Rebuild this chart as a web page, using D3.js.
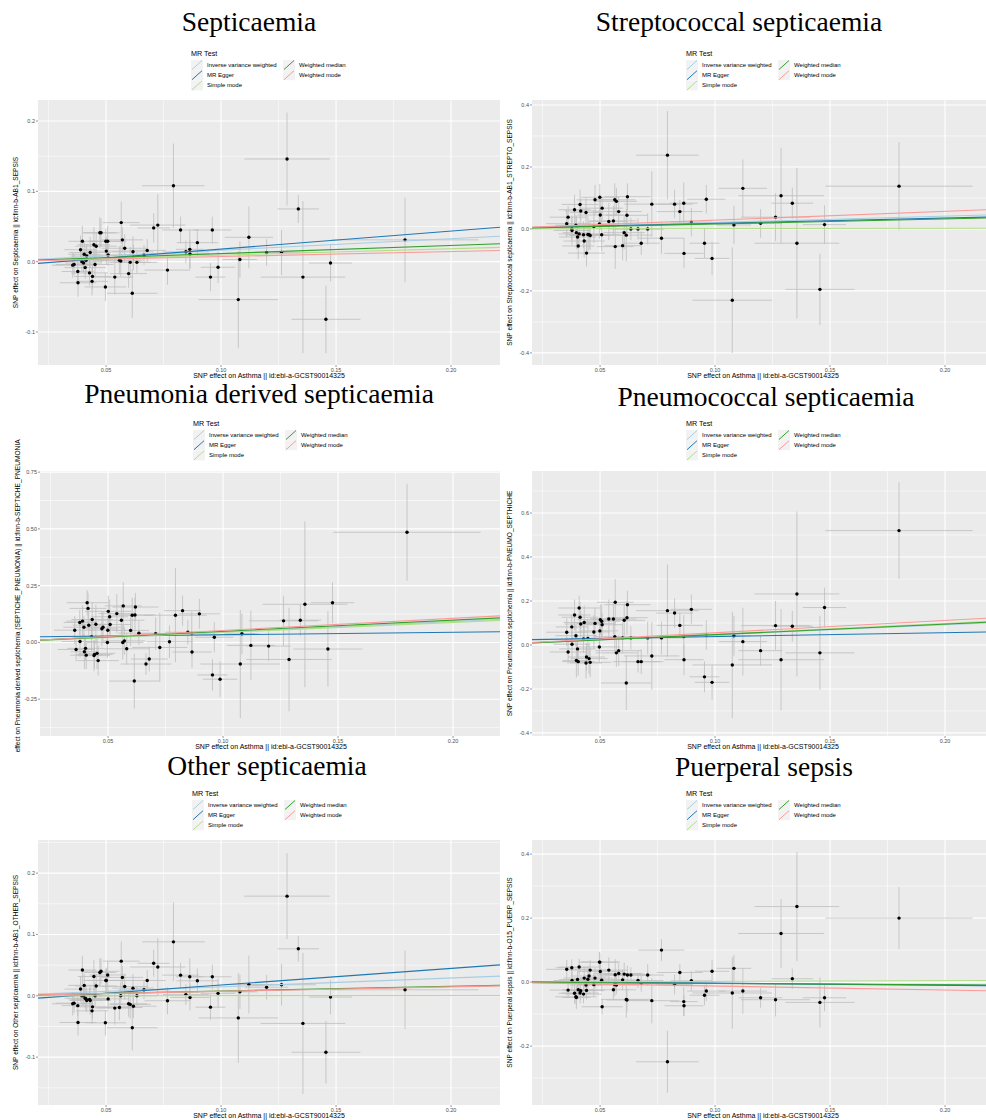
<!DOCTYPE html>
<html>
<head>
<meta charset="utf-8">
<script src="https://cdn.jsdelivr.net/npm/d3@7"></script>
<style>
  body { margin: 0; background: #fff; }
  svg { display: block; }
</style>
</head>
<body>
<div id="chart"></div>
<script>
(function() {
  'use strict';

  var methods = ["Inverse variance weighted", "MR Egger", "Simple mode", "Weighted median", "Weighted mode"];
  var methodColors = ["#A6CEE3", "#1F78B4", "#B2DF8A", "#33A02C", "#FB9A99"];

  var xLabel = "SNP effect on Asthma || id:ebi-a-GCST90014325";
  var xTicks = [0.05, 0.10, 0.15, 0.20];
  var xDomain = [0.0204, 0.2213];

  // SNP effect on the exposure (same instruments in every panel)
  var snpBeta = [0.0355, 0.0361, 0.0377, 0.0378, 0.0389, 0.0395, 0.0397, 0.0402, 0.0405, 0.0409,
    0.0413, 0.0416, 0.0428, 0.0431, 0.0439, 0.0441, 0.0447, 0.0452, 0.0457, 0.0473,
    0.0478, 0.0497, 0.0499, 0.0501, 0.0507, 0.0509, 0.0538, 0.0558, 0.0564, 0.0566,
    0.0571, 0.0581, 0.0598, 0.0605, 0.0614, 0.0617, 0.0619, 0.0634, 0.0665, 0.0679,
    0.0707, 0.0725, 0.0767, 0.0793, 0.0824, 0.0847, 0.0864, 0.0865, 0.0897, 0.0954,
    0.0962, 0.0987, 0.1075, 0.1082, 0.1121, 0.1198, 0.1263, 0.1287, 0.1336, 0.1356,
    0.1456, 0.1476, 0.1800];
  var snpSe = [0.009, 0.008, 0.007, 0.008, 0.007, 0.009, 0.006, 0.008, 0.007, 0.009,
    0.008, 0.007, 0.008, 0.009, 0.007, 0.008, 0.007, 0.008, 0.009, 0.007,
    0.008, 0.009, 0.008, 0.010, 0.008, 0.009, 0.008, 0.010, 0.009, 0.008,
    0.009, 0.010, 0.008, 0.009, 0.011, 0.009, 0.010, 0.009, 0.011, 0.008,
    0.007, 0.012, 0.010, 0.0136, 0.008, 0.010, 0.006, 0.0085, 0.009, 0.0065,
    0.0083, 0.0075, 0.0173, 0.0075, 0.0105, 0.0095, 0.015, 0.0186, 0.009, 0.0184,
    0.015, 0.0094, 0.032];

  // outcome: Septicaemia
  var septicaemiaBeta = [-0.005, -0.004, -0.014, -0.030, 0.017, 0.000, 0.029, -0.002, 0.0105, -0.0085,
    0.002, 0.008, -0.016, 0.013, -0.028, -0.021, 0.024, -0.004, 0.022, 0.041,
    0.041, -0.036, 0.029, 0.015, 0.029, 0.0095, -0.022, 0.002, 0.001, 0.0555,
    0.031, 0.019, -0.017, -0.001, -0.045, 0.014, 0.006, -0.001, 0.0095, 0.016,
    0.048, 0.052, -0.012, 0.108, 0.045, 0.014, 0.0175, 0.011, 0.027, -0.022,
    0.045, -0.008, -0.054, 0.003, 0.0346, 0.013, 0.013, 0.146, 0.075, -0.022,
    -0.082, -0.002, 0.031];
  var septicaemiaSe = [0.018, 0.015, 0.016, 0.020, 0.020, 0.014, 0.022, 0.015, 0.018, 0.016,
    0.020, 0.017, 0.018, 0.022, 0.020, 0.018, 0.025, 0.020, 0.019, 0.022,
    0.020, 0.020, 0.018, 0.020, 0.022, 0.015, 0.025, 0.020, 0.022, 0.030,
    0.018, 0.020, 0.020, 0.022, 0.035, 0.022, 0.018, 0.015, 0.014, 0.016,
    0.021, 0.044, 0.021, 0.060, 0.019, 0.016, 0.028, 0.020, 0.019, 0.020,
    0.019, 0.0225, 0.069, 0.026, 0.044, 0.019, 0.032, 0.066, 0.020, 0.108,
    0.048, 0.026, 0.060];

  // outcome: Streptococcal septicaemia
  var streptoBeta = [0.017, 0.038, 0.001, -0.005, 0.062, 0.012, -0.012, -0.026, -0.055, -0.016,
    0.079, 0.058, -0.019, -0.039, 0.053, -0.078, -0.018, -0.019, -0.021, 0.008,
    0.094, 0.016, 0.102, 0.045, -0.019, 0.067, 0.024, 0.026, 0.094, -0.057,
    0.089, 0.056, -0.054, -0.012, -0.020, 0.044, 0.104, 0.000, 0.000, -0.046,
    0.000, 0.080, -0.030, 0.238, 0.080, 0.056, 0.083, -0.079, 0.022, -0.046,
    0.096, -0.095, -0.230, 0.013, 0.131, 0.018, 0.038, 0.107, 0.083, -0.046,
    -0.195, 0.014, 0.138];
  var streptoSe = [0.043, 0.036, 0.038, 0.048, 0.048, 0.034, 0.053, 0.036, 0.043, 0.038,
    0.048, 0.041, 0.043, 0.053, 0.048, 0.043, 0.060, 0.048, 0.046, 0.053,
    0.048, 0.048, 0.043, 0.048, 0.053, 0.036, 0.060, 0.048, 0.053, 0.072,
    0.043, 0.048, 0.048, 0.053, 0.084, 0.053, 0.043, 0.036, 0.034, 0.038,
    0.050, 0.106, 0.050, 0.142, 0.046, 0.038, 0.067, 0.048, 0.046, 0.048,
    0.046, 0.054, 0.170, 0.062, 0.093, 0.046, 0.077, 0.155, 0.050, 0.243,
    0.115, 0.062, 0.142];

  // outcome: Pneumonia derived septicaemia
  var pneumoniaBeta = [0.054, -0.031, 0.088, 0.004, 0.094, 0.067, -0.041, -0.026, -0.056, 0.175,
    0.150, 0.076, 0.025, 0.101, -0.058, -0.053, 0.080, -0.048, -0.080, 0.060,
    0.067, 0.000, 0.054, 0.137, 0.113, 0.079, 0.127, 0.098, 0.000, 0.161,
    0.007, -0.028, 0.053, 0.120, -0.170, 0.121, 0.156, 0.041, -0.095, -0.073,
    0.039, -0.022, 0.003, 0.120, 0.140, 0.045, 0.040, -0.042, 0.126, -0.143,
    0.023, -0.162, -0.095, 0.038, -0.013, -0.016, 0.095, -0.075, 0.098, 0.168,
    -0.029, 0.175, 0.485];
  var pneumoniaSe = [0.062, 0.052, 0.055, 0.069, 0.069, 0.048, 0.076, 0.052, 0.062, 0.055,
    0.069, 0.059, 0.062, 0.076, 0.069, 0.062, 0.086, 0.069, 0.066, 0.076,
    0.069, 0.069, 0.062, 0.069, 0.076, 0.052, 0.086, 0.069, 0.076, 0.104,
    0.062, 0.069, 0.069, 0.076, 0.121, 0.076, 0.062, 0.052, 0.048, 0.055,
    0.072, 0.152, 0.072, 0.207, 0.066, 0.055, 0.097, 0.069, 0.066, 0.069,
    0.066, 0.078, 0.238, 0.090, 0.152, 0.066, 0.110, 0.228, 0.069, 0.365,
    0.166, 0.090, 0.213];

  // outcome: Pneumococcal septicaemia
  var pneumococcalBeta = [0.058, -0.032, 0.082, 0.003, 0.136, 0.042, -0.071, -0.018, -0.076, 0.168,
    0.126, 0.095, 0.027, 0.102, -0.082, -0.055, 0.030, -0.062, -0.079, 0.059,
    0.098, -0.009, 0.064, 0.115, 0.108, 0.092, 0.118, 0.118, 0.038, 0.194,
    -0.036, -0.026, 0.032, 0.112, -0.173, 0.124, 0.183, 0.032, -0.076, -0.076,
    0.032, -0.050, 0.032, 0.156, 0.145, 0.089, 0.038, -0.067, 0.162, -0.145,
    0.045, -0.170, -0.091, 0.042, 0.015, -0.026, 0.088, -0.067, 0.085, 0.232,
    -0.036, 0.170, 0.520];
  var pneumococcalSe = [0.063, 0.053, 0.056, 0.070, 0.070, 0.049, 0.077, 0.053, 0.063, 0.056,
    0.070, 0.060, 0.063, 0.077, 0.070, 0.063, 0.088, 0.070, 0.067, 0.077,
    0.070, 0.070, 0.063, 0.070, 0.077, 0.053, 0.088, 0.070, 0.077, 0.105,
    0.063, 0.070, 0.070, 0.077, 0.123, 0.077, 0.063, 0.053, 0.049, 0.056,
    0.074, 0.154, 0.074, 0.210, 0.067, 0.056, 0.098, 0.070, 0.067, 0.070,
    0.067, 0.079, 0.242, 0.091, 0.154, 0.067, 0.112, 0.231, 0.070, 0.375,
    0.168, 0.091, 0.220];

  // outcome: Other septicaemia
  var otherBeta = [-0.013, -0.012, -0.016, -0.0435, 0.011, 0.000, 0.042, 0.000, 0.017, -0.004,
    -0.005, -0.0076, -0.006, -0.0076, -0.0245, -0.018, 0.0315, 0.000, 0.016, 0.038,
    0.040, -0.044, 0.025, 0.025, 0.034, -0.005, -0.020, -0.019, 0.000, 0.0565,
    0.030, 0.0152, -0.013, -0.014, -0.052, 0.0125, -0.017, 0.000, 0.0098, 0.025,
    0.053, 0.047, -0.008, 0.088, 0.0337, 0.002, 0.031, -0.0027, 0.0245, -0.0185,
    0.031, 0.004, -0.036, 0.0065, 0.0185, 0.014, 0.018, 0.1625, 0.0766, -0.045,
    -0.092, -0.002, 0.0098];
  var otherSe = [0.019, 0.016, 0.017, 0.021, 0.021, 0.015, 0.023, 0.016, 0.019, 0.017,
    0.021, 0.018, 0.019, 0.023, 0.021, 0.019, 0.027, 0.021, 0.020, 0.023,
    0.021, 0.021, 0.019, 0.021, 0.023, 0.016, 0.027, 0.021, 0.023, 0.032,
    0.019, 0.021, 0.021, 0.023, 0.037, 0.023, 0.019, 0.016, 0.015, 0.017,
    0.022, 0.047, 0.022, 0.064, 0.020, 0.017, 0.030, 0.021, 0.020, 0.021,
    0.020, 0.024, 0.073, 0.028, 0.047, 0.020, 0.034, 0.070, 0.021, 0.115,
    0.051, 0.028, 0.064];

  // outcome: Puerperal sepsis
  var puerperalBeta = [0.040, -0.025, 0.045, 0.005, -0.035, -0.046, -0.048, 0.008, -0.024, 0.047,
    -0.034, -0.027, -0.0375, 0.0125, -0.009, -0.026, 0.009, 0.019, 0.0375, -0.008,
    0.0125, 0.0625, 0.0625, 0.033, 0.006, -0.077, 0.0375, -0.024, -0.008, 0.023,
    -0.009, 0.027, 0.007, 0.025, -0.054, -0.056, 0.022, 0.022, 0.005, -0.004,
    0.022, -0.058, 0.100, -0.249, -0.0073, 0.030, -0.061, -0.074, 0.004, -0.041,
    -0.028, 0.034, -0.034, 0.043, -0.028, -0.049, -0.055, 0.152, 0.0104, 0.236,
    -0.0635, -0.049, 0.200];
  var puerperalSe = [0.029, 0.024, 0.026, 0.032, 0.032, 0.023, 0.036, 0.024, 0.029, 0.026,
    0.032, 0.028, 0.029, 0.036, 0.032, 0.029, 0.040, 0.032, 0.031, 0.036,
    0.032, 0.032, 0.029, 0.032, 0.036, 0.024, 0.040, 0.032, 0.036, 0.049,
    0.029, 0.032, 0.032, 0.036, 0.057, 0.036, 0.029, 0.024, 0.023, 0.026,
    0.034, 0.071, 0.034, 0.097, 0.031, 0.026, 0.045, 0.032, 0.031, 0.032,
    0.031, 0.036, 0.112, 0.042, 0.071, 0.031, 0.052, 0.107, 0.032, 0.170,
    0.078, 0.042, 0.097];

  // MR slopes in the order of `methods`; Egger also has an intercept
  var septicaemiaSlopes = [0.163, 0.255, 0.092, 0.115, 0.072];
  var streptoSlopes = [0.207, 0.170, 0.010, 0.161, 0.284];
  var pneumoniaSlopes = [0.460, 0.112, 0.440, 0.490, 0.530];
  var pneumococcalSlopes = [0.460, 0.177, 0.487, 0.473, 0.556];
  var otherSlopes = [0.145, 0.270, 0.002, 0.077, 0.073];
  var puerperalSlopes = [-0.037, -0.066, 0.023, -0.041, -0.124];
  var eggerIntercepts = [-0.0076, 0.001, 0.0226, 0.0205, -0.0093, 0.0033];

  var panels = [
    {title: "Septicaemia", ylab: "SNP effect on Septicaemia || id:finn-b-AB1_SEPSIS",
     beta: septicaemiaBeta, se: septicaemiaSe, slopes: septicaemiaSlopes,
     yDomain: [-0.147, 0.2299], yTicks: [-0.1, 0, 0.1, 0.2], fmt: ".1f",
     left: 38, top: 100, box: [0, 0, 500, 380], titleX: 249, titleY: 31, legendX: 191, legendY: 53},
    {title: "Streptococcal septicaemia", ylab: "SNP effect on Streptococcal septicaemia || id:finn-b-AB1_STREPTO_SEPSIS",
     beta: streptoBeta, se: streptoSe, slopes: streptoSlopes,
     yDomain: [-0.439, 0.416], yTicks: [-0.4, -0.2, 0, 0.2, 0.4], fmt: ".1f",
     left: 532, top: 100, box: [500, 0, 986, 380], titleX: 739, titleY: 31, legendX: 686, legendY: 53},
    {title: "Pneumonia derived septicaemia", ylab: "SNP effect on Pneumonia derived septichemia (SEPTICHE_PNEUMONIA) || id:finn-b-SEPTICHE_PNEUMONIA",
     beta: pneumoniaBeta, se: pneumoniaSe, slopes: pneumoniaSlopes,
     yDomain: [-0.412, 0.755], yTicks: [-0.25, 0, 0.25, 0.5, 0.75], fmt: ".2f",
     left: 40, top: 471, box: [0, 381, 500, 752], titleX: 259, titleY: 403, legendX: 193, legendY: 423},
    {title: "Pneumococcal septicaemia", ylab: "SNP effect on Pneumococcal septichemia || id:finn-b-PNEUMO_SEPTHICHE",
     beta: pneumococcalBeta, se: pneumococcalSe, slopes: pneumococcalSlopes,
     yDomain: [-0.414, 0.791], yTicks: [-0.4, -0.2, 0, 0.2, 0.4, 0.6], fmt: ".1f",
     left: 532, top: 471, box: [500, 381, 986, 752], titleX: 766, titleY: 406, legendX: 686, legendY: 423},
    {title: "Other septicaemia", ylab: "SNP effect on Other septicaemia || id:finn-b-AB1_OTHER_SEPSIS",
     beta: otherBeta, se: otherSe, slopes: otherSlopes,
     yDomain: [-0.178, 0.254], yTicks: [-0.1, 0, 0.1, 0.2], fmt: ".1f",
     left: 38, top: 840, box: [0, 752, 500, 1120], titleX: 267, titleY: 775, legendX: 192, legendY: 793},
    {title: "Puerperal sepsis", ylab: "SNP effect on Puerperal sepsis || id:finn-b-O15_PUERP_SEPSIS",
     beta: puerperalBeta, se: puerperalSe, slopes: puerperalSlopes,
     yDomain: [-0.384, 0.444], yTicks: [-0.2, 0, 0.2, 0.4], fmt: ".1f",
     left: 532, top: 840, box: [500, 752, 986, 1120], titleX: 764, titleY: 776, legendX: 686, legendY: 793}
  ];

  var plotWidth = 462, plotHeight = 265;
  var sans = "'Liberation Sans', Arial, sans-serif";
  var serif = "'Liberation Serif', 'Times New Roman', serif";

  var svg = d3.select("#chart").append("svg")
    .attr("width", 986)
    .attr("height", 1120)
    .style("background", "#fff");
  var defs = svg.append("defs");

  panels.forEach(function(p, k) {
    drawPanel(p, k);
  });

  function fmtMinus(f) {
    var base = d3.format(f);
    return function(v) { return base(v).replace("\u2212", "-"); };
  }

  function minorTicks(ticks) {
    var step = ticks[1] - ticks[0];
    var out = [ticks[0] - step / 2];
    ticks.forEach(function(t) { out.push(t + step / 2); });
    return out;
  }

  function drawPanel(p, k) {
    var right = Math.min(p.left + plotWidth, p.box[2]);
    var bottom = p.top + plotHeight;
    var x = d3.scaleLinear().domain(xDomain).range([p.left, p.left + plotWidth]);
    var y = d3.scaleLinear().domain(p.yDomain).range([bottom, p.top]);

    defs.append("clipPath").attr("id", "plot" + k)
      .append("rect")
      .attr("x", p.left).attr("y", p.top)
      .attr("width", right - p.left).attr("height", plotHeight);
    defs.append("clipPath").attr("id", "box" + k)
      .append("rect")
      .attr("x", p.box[0]).attr("y", p.box[1])
      .attr("width", p.box[2] - p.box[0]).attr("height", p.box[3] - p.box[1]);

    var g = svg.append("g").attr("clip-path", "url(#box" + k + ")");

    // Title
    g.append("text")
      .attr("x", p.titleX).attr("y", p.titleY)
      .attr("text-anchor", "middle")
      .style("font-family", serif)
      .style("font-size", "27.5px")
      .attr("fill", "#000")
      .text(p.title);

    drawLegend(g, p.legendX, p.legendY);

    // Panel background and grid
    var plot = g.append("g").attr("clip-path", "url(#plot" + k + ")");
    plot.append("rect")
      .attr("x", p.left).attr("y", p.top)
      .attr("width", right - p.left).attr("height", plotHeight)
      .attr("fill", "#EBEBEB");

    var xMinor = minorTicks(xTicks), yMinor = minorTicks(p.yTicks);
    plot.selectAll(".xminor").data(xMinor).enter().append("line")
      .attr("x1", function(d) { return x(d); }).attr("x2", function(d) { return x(d); })
      .attr("y1", p.top).attr("y2", bottom)
      .attr("stroke", "#fff").attr("stroke-width", 0.55);
    plot.selectAll(".yminor").data(yMinor).enter().append("line")
      .attr("y1", function(d) { return y(d); }).attr("y2", function(d) { return y(d); })
      .attr("x1", p.left).attr("x2", right)
      .attr("stroke", "#fff").attr("stroke-width", 0.55);
    plot.selectAll(".xmajor").data(xTicks).enter().append("line")
      .attr("x1", function(d) { return x(d); }).attr("x2", function(d) { return x(d); })
      .attr("y1", p.top).attr("y2", bottom)
      .attr("stroke", "#fff").attr("stroke-width", 1.1);
    plot.selectAll(".ymajor").data(p.yTicks).enter().append("line")
      .attr("y1", function(d) { return y(d); }).attr("y2", function(d) { return y(d); })
      .attr("x1", p.left).attr("x2", right)
      .attr("stroke", "#fff").attr("stroke-width", 1.1);

    // Error bars, points, MR lines
    var idx = d3.range(snpBeta.length);
    plot.selectAll(".ebar").data(idx).enter().append("line")
      .attr("x1", function(i) { return x(snpBeta[i]); })
      .attr("x2", function(i) { return x(snpBeta[i]); })
      .attr("y1", function(i) { return y(p.beta[i] - p.se[i]); })
      .attr("y2", function(i) { return y(p.beta[i] + p.se[i]); })
      .attr("stroke", "#BEBEBE").attr("stroke-width", 0.8);
    plot.selectAll(".ebarh").data(idx).enter().append("line")
      .attr("y1", function(i) { return y(p.beta[i]); })
      .attr("y2", function(i) { return y(p.beta[i]); })
      .attr("x1", function(i) { return x(snpBeta[i] - snpSe[i]); })
      .attr("x2", function(i) { return x(snpBeta[i] + snpSe[i]); })
      .attr("stroke", "#BEBEBE").attr("stroke-width", 0.8);
    plot.selectAll(".pt").data(idx).enter().append("circle")
      .attr("cx", function(i) { return x(snpBeta[i]); })
      .attr("cy", function(i) { return y(p.beta[i]); })
      .attr("r", 1.7)
      .attr("fill", "#000");

    plot.selectAll(".mr").data(d3.range(methods.length)).enter().append("line")
      .attr("x1", x(xDomain[0]))
      .attr("x2", x(xDomain[1]))
      .attr("y1", function(m) { return y(lineAt(p, k, m, xDomain[0])); })
      .attr("y2", function(m) { return y(lineAt(p, k, m, xDomain[1])); })
      .attr("stroke", function(m) { return methodColors[m]; })
      .attr("stroke-width", 1.1);

    // Axes
    var fx = fmtMinus(".2f"), fy = fmtMinus(p.fmt);
    var axes = g.append("g")
      .style("font-family", sans);
    axes.selectAll(".xt").data(xTicks).enter().append("line")
      .attr("x1", function(d) { return x(d); }).attr("x2", function(d) { return x(d); })
      .attr("y1", bottom).attr("y2", bottom + 2)
      .attr("stroke", "#333").attr("stroke-width", 0.5);
    axes.selectAll(".xl").data(xTicks).enter().append("text")
      .attr("x", function(d) { return x(d); })
      .attr("y", bottom + 7)
      .attr("text-anchor", "middle")
      .style("font-size", "5.5px")
      .attr("fill", "#4D4D4D")
      .text(fx);
    axes.selectAll(".yt").data(p.yTicks).enter().append("line")
      .attr("y1", function(d) { return y(d); }).attr("y2", function(d) { return y(d); })
      .attr("x1", p.left - 2).attr("x2", p.left)
      .attr("stroke", "#333").attr("stroke-width", 0.5);
    axes.selectAll(".yl").data(p.yTicks).enter().append("text")
      .attr("x", p.left - 3)
      .attr("y", function(d) { return y(d) + 2; })
      .attr("text-anchor", "end")
      .style("font-size", "5.5px")
      .attr("fill", "#4D4D4D")
      .text(fy);

    axes.append("text")
      .attr("x", p.left + plotWidth / 2)
      .attr("y", bottom + 12.5)
      .attr("text-anchor", "middle")
      .style("font-size", "7px")
      .attr("fill", "#000")
      .text(xLabel);
    axes.append("text")
      .attr("transform", "translate(" + (p.left - 20) + "," + (p.top + plotHeight / 2) + ") rotate(-90)")
      .attr("text-anchor", "middle")
      .style("font-size", "6.6px")
      .attr("fill", "#000")
      .text(p.ylab);
  }

  function lineAt(p, k, m, xv) {
    var b = m === 1 ? eggerIntercepts[k] : 0;
    return b + p.slopes[m] * xv;
  }

  function drawLegend(g, lx, ly) {
    var lg = g.append("g").style("font-family", sans);
    lg.append("text")
      .attr("x", lx).attr("y", ly + 2.5)
      .style("font-size", "7.2px")
      .attr("fill", "#000")
      .text("MR Test");
    methods.forEach(function(m, i) {
      var col = i < 3 ? 0 : 1;
      var row = i < 3 ? i : i - 3;
      var kx = lx + col * 92;
      var ky = ly + 7 + row * 10.2;
      lg.append("rect")
        .attr("x", kx).attr("y", ky)
        .attr("width", 12).attr("height", 10)
        .attr("fill", "#F2F2F2");
      lg.append("line")
        .attr("x1", kx + 1).attr("y1", ky + 9.5)
        .attr("x2", kx + 11).attr("y2", ky + 0.5)
        .attr("stroke", methodColors[i])
        .attr("stroke-width", 1);
      lg.append("text")
        .attr("x", kx + 16).attr("y", ky + 7)
        .style("font-size", "6px")
        .attr("fill", "#000")
        .text(m);
    });
  }
}());
</script>
</body>
</html>
